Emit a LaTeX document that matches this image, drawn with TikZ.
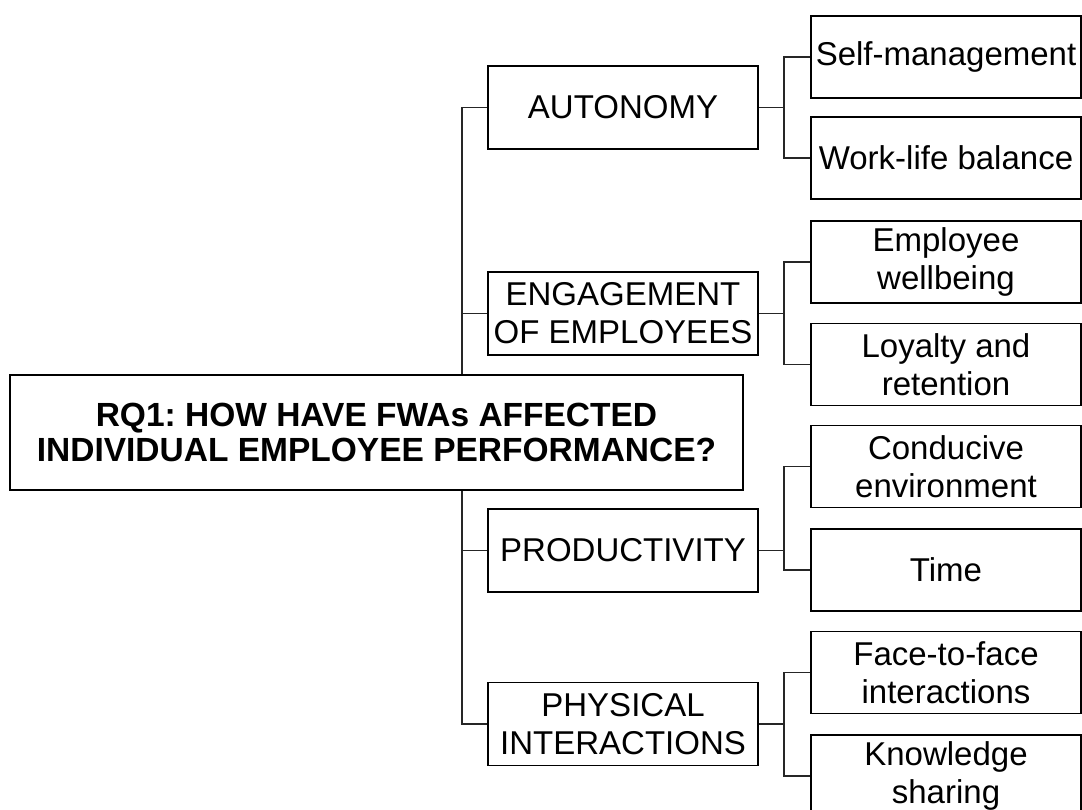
\documentclass[tikz,border=0pt]{standalone}
\usepackage{fontspec}
\setmainfont{Liberation Sans}
\usepackage{tikz}
\frenchspacing

\begin{document}
\begin{tikzpicture}[x=1pt,y=-1pt,
  box/.style={draw=black,line width=1.6pt,fill=white,align=center,inner sep=0pt,
    font=\fontsize{33}{38}\selectfont},
  mainbox/.style={box,minimum width=733pt,minimum height=115pt,font=\fontsize{33.5}{35}\selectfont\bfseries},
  midbox/.style={box,minimum width=270pt,minimum height=83pt},
  leafbox/.style={box,minimum width=270pt,minimum height=82pt},
  link/.style={draw=black!85,line width=1.6pt}]
\clip (0,0) rectangle (1082,810);
% Question
\node[mainbox] (rq) at (376.5,432.5) {RQ1: HOW HAVE FWAs AFFECTED\\INDIVIDUAL EMPLOYEE PERFORMANCE?};
% Themes
\node[midbox] (aut) at (623,107.5) {AUTONOMY};
\node[midbox] (eng) at (623,313.5) {ENGAGEMENT\\OF EMPLOYEES};
\node[midbox] (pro) at (623,550.5) {PRODUCTIVITY};
\node[midbox] (phy) at (623,724) {PHYSICAL\\INTERACTIONS};
% Sub-themes
\node[leafbox] (self) at (946,57) {Self-management};
\node[leafbox] (work) at (946,158) {Work-life balance};
\node[leafbox] (well) at (946,262) {Employee\\wellbeing};
\node[leafbox] (loyal) at (946,364.5) {Loyalty and\\retention};
\node[leafbox] (cond) at (946,466.5) {Conducive\\environment};
\node[leafbox] (time) at (946,570) {Time};
\node[leafbox] (face) at (946,672.5) {Face-to-face\\interactions};
\node[leafbox] (know) at (946,776) {Knowledge\\sharing};
% Trunk positions
\coordinate (tr) at (462,0);
\coordinate (br) at (784,0);
% Question to themes
\draw[link] (rq.north -| tr) |- (aut.west);
\draw[link] (rq.north -| tr) |- (eng.west);
\draw[link] (rq.south -| tr) |- (pro.west);
\draw[link] (rq.south -| tr) |- (phy.west);
% Themes to sub-themes
\draw[link] (aut.east) -- (aut.east -| br) |- (self.west);
\draw[link] (aut.east) -- (aut.east -| br) |- (work.west);
\draw[link] (eng.east) -- (eng.east -| br) |- (well.west);
\draw[link] (eng.east) -- (eng.east -| br) |- (loyal.west);
\draw[link] (pro.east) -- (pro.east -| br) |- (cond.west);
\draw[link] (pro.east) -- (pro.east -| br) |- (time.west);
\draw[link] (phy.east) -- (phy.east -| br) |- (face.west);
\draw[link] (phy.east) -- (phy.east -| br) |- (know.west);
\end{tikzpicture}
\end{document}
